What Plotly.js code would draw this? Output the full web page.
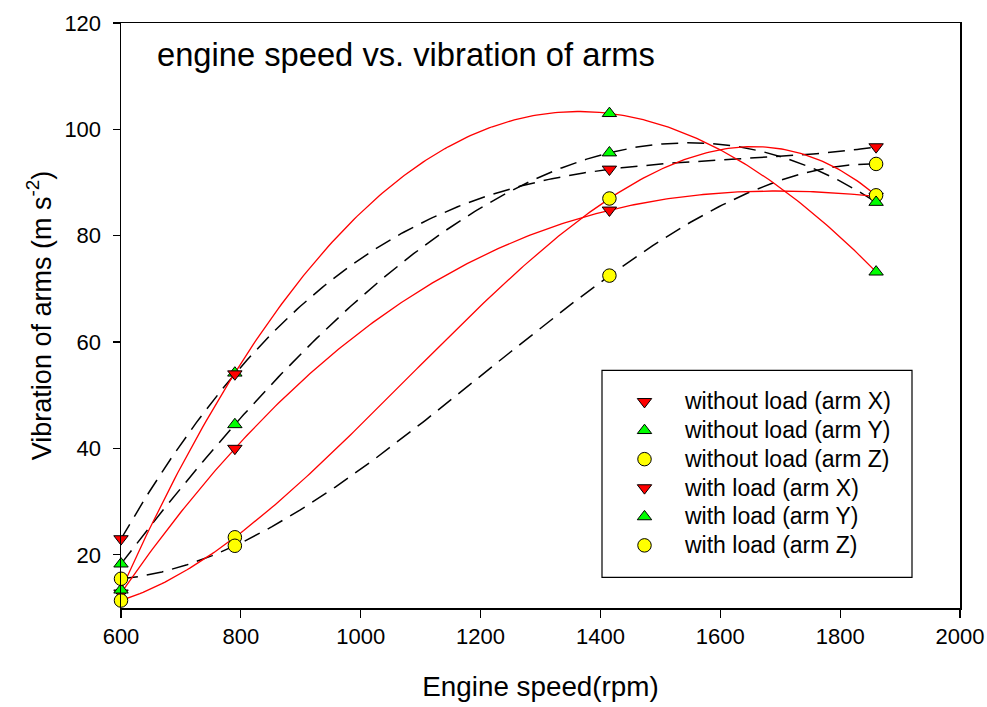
<!DOCTYPE html>
<html>
<head>
<meta charset="utf-8">
<script src="https://cdn.plot.ly/plotly-3.0.1.min.js"></script>
<style>html,body{margin:0;padding:0;background:#fff;}#chart{width:987px;height:707px;}</style>
</head>
<body>
<div id="chart"></div>
<script>
// Engine speed (rpm)
const engineSpeed = [600, 790, 1415, 1860];
// Vibration of arms (m s^-2)
const withoutLoadX = [23.0, 54.0, 92.5, 96.7];
const withoutLoadY = [18.3, 44.5, 95.6, 86.3];
const withoutLoadZ = [15.5, 21.7, 72.5, 93.5];
const withLoadX = [12.8, 40.0, 84.8, 87.4];
const withLoadY = [13.4, 54.2, 103.0, 73.2];
const withLoadZ = [11.4, 23.3, 87.0, 87.6];

const seriesNames = [
  "without load (arm X)", "without load (arm Y)", "without load (arm Z)",
  "with load (arm X)", "with load (arm Y)", "with load (arm Z)"
];
const xTicks = [600, 800, 1000, 1200, 1400, 1600, 1800, 2000];
const yTicks = [20, 40, 60, 80, 100, 120];

const FONT = "Liberation Sans, Arial, Helvetica, sans-serif";
const RED = "#ff0000", GREEN = "#00ff00", YELLOW = "#ffff00";

// cubic polynomial regression (as in the original plot's fitted curves)
function polyFit(xs, ys, deg) {
  const c = 1200, s = 600;
  const n = deg + 1;
  const A = Array.from({length: n}, () => new Array(n + 1).fill(0));
  xs.forEach((xv, k) => {
    const t = (xv - c) / s;
    for (let i = 0; i < n; i++) {
      for (let j = 0; j < n; j++) A[i][j] += Math.pow(t, i + j);
      A[i][n] += ys[k] * Math.pow(t, i);
    }
  });
  for (let i = 0; i < n; i++) {
    let p = i;
    for (let r = i + 1; r < n; r++) if (Math.abs(A[r][i]) > Math.abs(A[p][i])) p = r;
    [A[i], A[p]] = [A[p], A[i]];
    for (let r = 0; r < n; r++) {
      if (r === i) continue;
      const f = A[r][i] / A[i][i];
      for (let j = i; j <= n; j++) A[r][j] -= f * A[i][j];
    }
  }
  const coef = A.map((row, i) => row[n] / row[i]);
  return xv => { const t = (xv - c) / s; return coef.reduce((acc, a, i) => acc + a * Math.pow(t, i), 0); };
}
function fitCurve(xs, ys) {
  const f = polyFit(xs, ys, 3);
  const lo = Math.min(...xs), hi = Math.max(...xs), N = 240;
  const fx = [], fy = [];
  for (let i = 0; i <= N; i++) { const xv = lo + (hi - lo) * i / N; fx.push(xv); fy.push(f(xv)); }
  return {fx, fy};
}

const series = [
  {y: withoutLoadX, name: seriesNames[0], sym: "triangle-down", col: RED, size: 12.5, load: false},
  {y: withoutLoadY, name: seriesNames[1], sym: "triangle-up", col: GREEN, size: 12.5, load: false},
  {y: withoutLoadZ, name: seriesNames[2], sym: "circle", col: YELLOW, size: 13.5, load: false},
  {y: withLoadX, name: seriesNames[3], sym: "triangle-down", col: RED, size: 12.5, load: true},
  {y: withLoadY, name: seriesNames[4], sym: "triangle-up", col: GREEN, size: 12.5, load: true},
  {y: withLoadZ, name: seriesNames[5], sym: "circle", col: YELLOW, size: 13.5, load: true}
];

const traces = [];
series.forEach(s => {
  const {fx, fy} = fitCurve(engineSpeed, s.y);
  traces.push({
    x: fx, y: fy, mode: "lines", showlegend: false, hoverinfo: "skip",
    line: s.load ? {color: RED, width: 1.3}
                 : {color: "#000", width: 1.5, dash: "17px,9px"}
  });
});
const order = [3, 4, 5, 0, 1, 2];
order.forEach(i => {
  const s = series[i];
  traces.push({
    x: engineSpeed, y: s.y, mode: "markers", legendrank: i + 1, cliponaxis: false,
    name: '<span style="font-size:23px">' + s.name + '</span>',
    marker: {symbol: s.sym, size: s.size, color: s.col, line: {color: "#000", width: 1}}
  });
});

const layout = {
  width: 987, height: 707,
  paper_bgcolor: "#fff", plot_bgcolor: "#fff",
  margin: {l: 121, r: 27, t: 23, b: 99},
  font: {family: FONT, color: "#000", size: 22},
  title: {
    text: "engine speed vs. vibration of arms",
    font: {family: FONT, size: 32.7, color: "#000"},
    x: 157 / 987, xanchor: "left", xref: "container",
    y: 1 - 55 / 707, yanchor: "middle", yref: "container"
  },
  xaxis: {
    range: [600, 2000], tickvals: xTicks, ticktext: xTicks.map(String),
    showgrid: false, zeroline: false, showline: true, mirror: true,
    linecolor: "#000", linewidth: 1.5, ticks: "outside", ticklen: 8, tickwidth: 1.2, tickcolor: "#000",
    tickfont: {family: FONT, size: 22},
    title: {text: "Engine speed(rpm)", font: {family: FONT, size: 27.8}, standoff: 28}
  },
  yaxis: {
    range: [10, 120], tickvals: yTicks, ticktext: yTicks.map(String),
    showgrid: false, zeroline: false, showline: true, mirror: true,
    linecolor: "#000", linewidth: 1.5, ticks: "outside", ticklen: 7, tickwidth: 1.2, tickcolor: "#000",
    tickfont: {family: FONT, size: 22}, ticklabelstandoff: 7,
    title: {text: "Vibration of arms (m s<sup>-2</sup>)", font: {family: FONT, size: 27}, standoff: 5}
  },
  shapes: [{
    type: "rect", xref: "paper", yref: "paper", layer: "above",
    x0: (602 - 121) / 839, x1: (912 - 121) / 839,
    y0: (607.7 - 577) / 585, y1: (607.7 - 370) / 585,
    line: {color: "#000", width: 1.2}, fillcolor: "rgba(0,0,0,0)"
  }],
  legend: {
    x: (604 - 121) / 839, y: (607.7 - 382) / 585, xanchor: "left", yanchor: "top", xref: "paper", yref: "paper",
    bgcolor: "rgba(0,0,0,0)", borderwidth: 0,
    font: {family: FONT, size: 19.8, color: "#000"},
    itemwidth: 71, itemsizing: "trace", tracegroupgap: 0
  },
  showlegend: true
};

Plotly.newPlot("chart", traces, layout, {staticPlot: true, displayModeBar: false});
</script>
</body>
</html>
